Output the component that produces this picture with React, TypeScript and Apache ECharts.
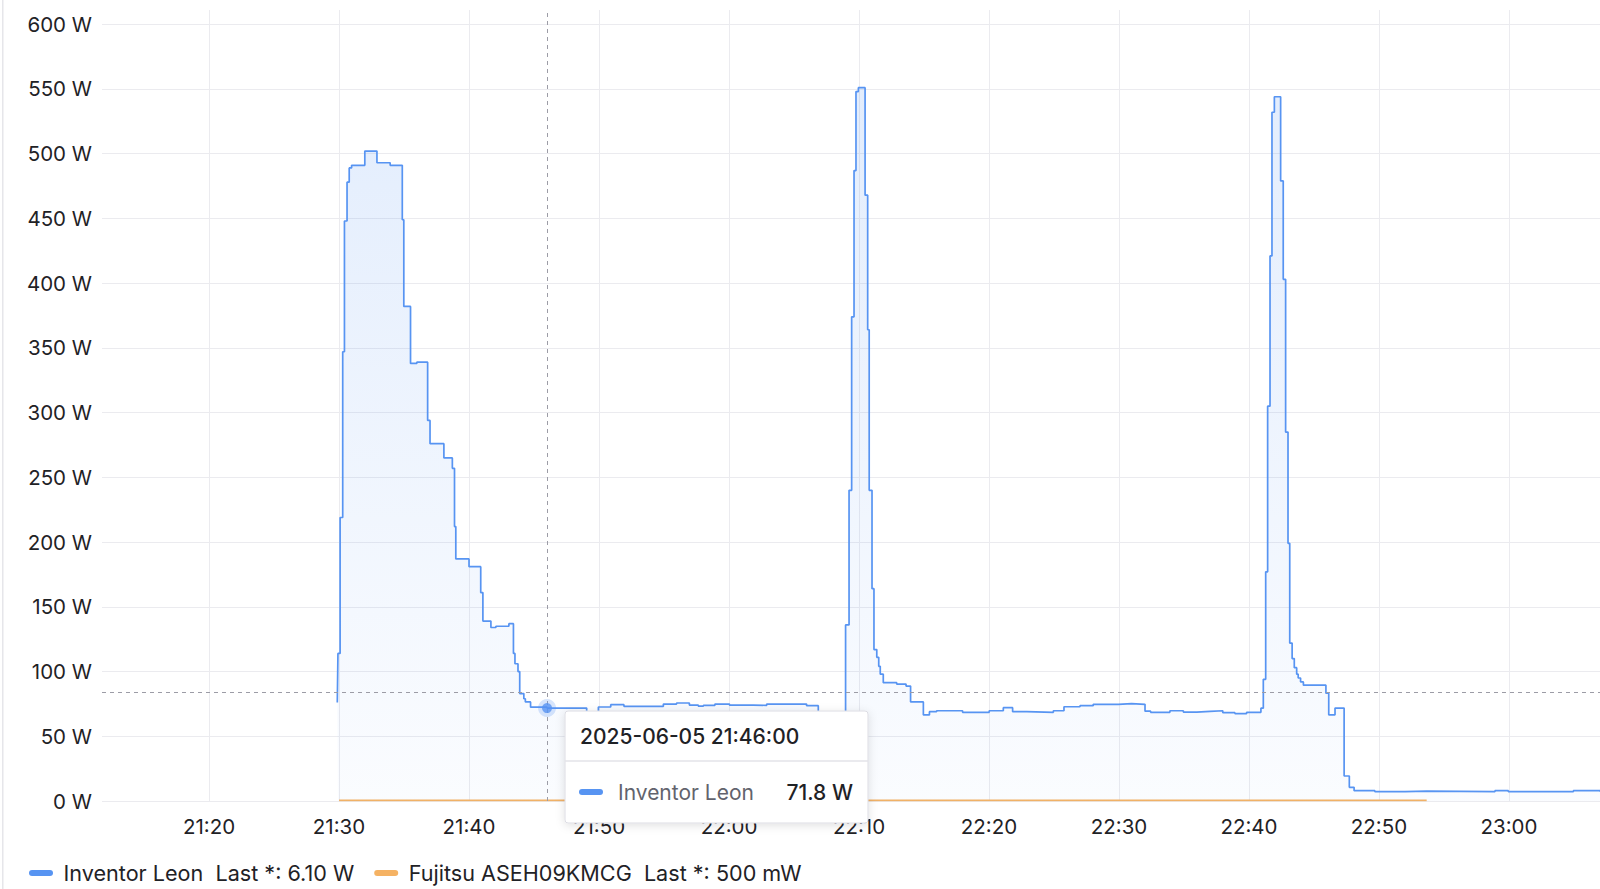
import React, { useEffect, useRef } from "react";
import * as echarts from "echarts";

const FONT = "Inter, 'Noto Sans', 'DejaVu Sans', sans-serif";

const leonName = "Inventor Leon";
const fujitsuName = "Fujitsu ASEH09KMCG";
const leonLast = "6.10 W";
const fujitsuLast = "500 mW";

const leonTimes = [
  "21:29:52", "21:29:55", "21:30:05", "21:30:17", "21:30:25", "21:30:37", "21:30:47", "21:30:58",
  "21:31:59", "21:32:55", "21:33:56", "21:34:52", "21:34:59", "21:35:30", "21:35:59", "21:36:49",
  "21:37:00", "21:38:04", "21:38:43", "21:38:53", "21:38:59", "21:40:00", "21:40:54", "21:41:04",
  "21:41:41", "21:42:04", "21:43:04", "21:43:25", "21:43:32", "21:43:46", "21:43:54", "21:44:13",
  "21:44:20", "21:44:44", "21:46:00", "21:49:03", "21:49:57", "21:50:54", "21:51:55", "21:54:57",
  "21:55:58", "21:56:57", "21:57:38", "21:58:02", "21:58:55", "22:00:02", "22:01:52", "22:02:54",
  "22:05:58", "22:06:52", "22:08:58", "22:09:14", "22:09:26", "22:09:37", "22:09:46", "22:09:57",
  "22:10:28", "22:10:40", "22:10:47", "22:11:00", "22:11:09", "22:11:22", "22:11:31", "22:11:38",
  "22:11:52", "22:12:54", "22:13:37", "22:13:58", "22:14:57", "22:15:25", "22:15:58", "22:17:58",
  "22:20:01", "22:21:06", "22:21:49", "22:22:54", "22:24:57", "22:25:46", "22:27:00", "22:28:01",
  "22:29:57", "22:30:58", "22:32:00", "22:32:26", "22:33:55", "22:34:57", "22:35:59", "22:37:00",
  "22:37:59", "22:38:55", "22:39:49", "22:40:55", "22:41:06", "22:41:17", "22:41:26", "22:41:37",
  "22:41:46", "22:41:57", "22:42:26", "22:42:38", "22:42:49", "22:43:00", "22:43:08", "22:43:19",
  "22:43:29", "22:43:40", "22:43:47", "22:43:58", "22:44:11", "22:45:55", "22:46:08", "22:46:37",
  "22:47:19", "22:47:43", "22:48:05", "22:49:41", "22:52:00", "22:53:40", "22:58:55", "22:59:57",
  "23:04:57", "23:07:00",
];

const leonWatts = [
  76, 114, 219, 347, 448, 478, 489, 491,
  502, 493, 491, 449, 382, 338, 339, 294,
  276, 265, 257, 212, 187, 181, 161, 139,
  134, 135, 137, 114, 106, 100, 83, 79,
  76.5, 72.5, 71.8, 67.5, 72.6, 74.4, 73.1, 74.9,
  75.7, 74.1, 73.3, 73.9, 74.9, 74.1, 73.9, 74.9,
  73.6, 67, 136, 240, 374, 487, 548, 551,
  468, 364, 240, 164, 117, 111, 104, 98,
  91.4, 90.3, 88.8, 76.5, 66.5, 69, 69.7, 68.5,
  69.7, 72.1, 69, 68.5, 69.7, 72.8, 73.6, 74.7,
  75.2, 74.7, 69.4, 68.5, 69.7, 68.7, 69.2, 69.7,
  68.2, 67.5, 68.5, 71.7, 94, 177, 305, 421,
  532, 544, 479, 403, 285, 199, 122, 110,
  103, 98, 95, 92, 89.5, 83.3, 66.6, 71.8,
  19.3, 10.6, 8, 7.2, 7.7, 7.2, 8, 7.2,
  8, 7.2,
];

const fujitsuTimes = ["21:30:00", "22:53:40"];
const fujitsuWatts = [0.5, 0.5];

const xTickLabels = ["21:20", "21:30", "21:40", "21:50", "22:00", "22:10", "22:20", "22:30", "22:40", "22:50", "23:00"];
const yTicks = [0, 50, 100, 150, 200, 250, 300, 350, 400, 450, 500, 550, 600];
const xStart = "21:11:46";
const xEnd = "23:07:00";
const yMax = 611;

const tipDate = "2025-06-05";
const tipTime = "21:46:00";
const tipWatts = 71.8;
const cursorWatts = 84;

const BLUE = "#5794F2";
const ORANGE = "#F5B263";
const TEXT = "#1f2226";
const GRID = "#ebebef";
const PILL = "path://M3,0 L21,0 A3,3 0 0 1 21,6 L3,6 A3,3 0 0 1 3,0 Z";

const toMin = (t: string) => {
  const [h, m, s] = t.split(":").map(Number);
  return (h - 21) * 60 + m + (s || 0) / 60;
};

export default function App() {
  const ref = useRef<HTMLDivElement>(null);

  useEffect(() => {
    if (!ref.current) return;
    const chart = echarts.init(ref.current, undefined, { renderer: "svg" });
    const xTickValues = xTickLabels.map(toMin);
    const leonData = leonTimes.map((t, i) => [toMin(t), leonWatts[i]]);
    const fujitsuData = fujitsuTimes.map((t, i) => [toMin(t), fujitsuWatts[i]]);
    const tipX = toMin(tipTime);
    const TZ = 100;

    chart.setOption({
      animation: false,
      textStyle: { fontFamily: FONT },
      grid: { left: 102, right: 0, top: 10, bottom: 88, containLabel: false, outerBoundsMode: "none" },
      xAxis: {
        type: "value",
        min: toMin(xStart),
        max: toMin(xEnd),
        axisLine: { show: false },
        axisTick: { show: false, customValues: xTickValues },
        splitLine: { show: true, lineStyle: { color: GRID, width: 1 } },
        axisLabel: {
          customValues: xTickValues,
          formatter: (v: number) => {
            const idx = xTickValues.findIndex((x) => Math.abs(x - v) < 1e-6);
            return idx >= 0 ? xTickLabels[idx] : "";
          },
          fontSize: 20.5,
          color: TEXT,
          fontFamily: FONT,
          margin: 15,
        },
      },
      yAxis: {
        type: "value",
        min: 0,
        max: yMax,
        axisLine: { show: false },
        axisTick: { show: false, customValues: yTicks },
        splitLine: { show: true, lineStyle: { color: GRID, width: 1 } },
        axisLabel: {
          customValues: yTicks,
          formatter: (v: number) => `${v} W`,
          fontSize: 20.5,
          color: TEXT,
          fontFamily: FONT,
          margin: 10,
        },
      },
      legend: {
        left: 24,
        top: 857,
        icon: PILL,
        itemWidth: 25,
        itemHeight: 6,
        itemGap: 20,
        selectedMode: false,
        data: [leonName, fujitsuName],
        formatter: (name: string) =>
          `{s|}${name}  Last *: ${name === leonName ? leonLast : fujitsuLast}`,
        textStyle: {
          fontSize: 21.6,
          color: TEXT,
          fontFamily: FONT,
          rich: { s: { width: 5 } },
        },
      },
      series: [
        {
          name: leonName,
          type: "line",
          step: "end",
          data: leonData,
          showSymbol: false,
          symbol: "none",
          color: BLUE,
          lineStyle: { color: BLUE, width: 1.7 },
          areaStyle: {
            color: new echarts.graphic.LinearGradient(0, 0, 0, 1, [
              { offset: 0, color: "rgba(87,148,242,0.24)" },
              { offset: 1, color: "rgba(87,148,242,0.04)" },
            ]),
          },
          z: 3,
          markLine: {
            silent: true,
            symbol: ["none", "none"],
            label: { show: false },
            emphasis: { disabled: true },
            lineStyle: { color: "#9c9ca6", width: 1, type: [4, 4] },
            data: [{ xAxis: tipX }, { yAxis: cursorWatts }],
          },
        },
        {
          name: fujitsuName,
          type: "line",
          step: "end",
          data: fujitsuData,
          showSymbol: false,
          symbol: "none",
          color: ORANGE,
          lineStyle: { color: ORANGE, width: 1.7 },
          z: 2,
        },
        {
          name: "halo",
          type: "scatter",
          data: [[tipX, tipWatts]],
          symbolSize: 18,
          itemStyle: { color: "rgba(87,148,242,0.3)" },
          silent: true,
          z: 5,
        },
        {
          name: "dot",
          type: "scatter",
          data: [[tipX, tipWatts]],
          symbolSize: 10,
          itemStyle: { color: BLUE },
          silent: true,
          z: 6,
        },
      ],
      graphic: [
        {
          type: "rect",
          shape: { x: 2, y: 0, width: 1.5, height: 889 },
          style: { fill: "#e6e6ea" },
          silent: true,
        },
        {
          type: "group",
          x: 565,
          y: 711,
          z: TZ,
          children: [
            {
              type: "rect",
              z: TZ,
              shape: { x: 0, y: 0, width: 303, height: 112, r: 3 },
              style: {
                fill: "#ffffff",
                stroke: "#dcdce3",
                lineWidth: 1,
                shadowBlur: 10,
                shadowColor: "rgba(0,0,0,0.12)",
                shadowOffsetY: 2,
              },
            },
            {
              type: "line",
              z: TZ + 1,
              shape: { x1: 0, y1: 50, x2: 303, y2: 50 },
              style: { stroke: "#e3e3e9", lineWidth: 1.5 },
            },
            {
              type: "text",
              z: TZ + 1,
              x: 15,
              y: 25,
              style: {
                text: `${tipDate} ${tipTime}`,
                fontSize: 21,
                fontWeight: 500,
                fontFamily: FONT,
                fill: TEXT,
                verticalAlign: "middle",
              },
            },
            {
              type: "rect",
              z: TZ + 1,
              shape: { x: 14, y: 78, width: 24, height: 6, r: 3 },
              style: { fill: BLUE },
            },
            {
              type: "text",
              z: TZ + 1,
              x: 53,
              y: 81,
              style: {
                text: leonName,
                fontSize: 21,
                fontFamily: FONT,
                fill: "#62636d",
                verticalAlign: "middle",
              },
            },
            {
              type: "text",
              z: TZ + 1,
              x: 288,
              y: 81,
              style: {
                text: `${tipWatts} W`,
                fontSize: 21,
                fontWeight: 500,
                fontFamily: FONT,
                fill: TEXT,
                align: "right",
                verticalAlign: "middle",
              },
            },
          ],
        },
      ],
    });

    return () => chart.dispose();
  }, []);

  return (
    <div
      ref={ref}
      style={{ position: "fixed", left: 0, top: 0, width: 1600, height: 889, background: "#fff" }}
    />
  );
}
